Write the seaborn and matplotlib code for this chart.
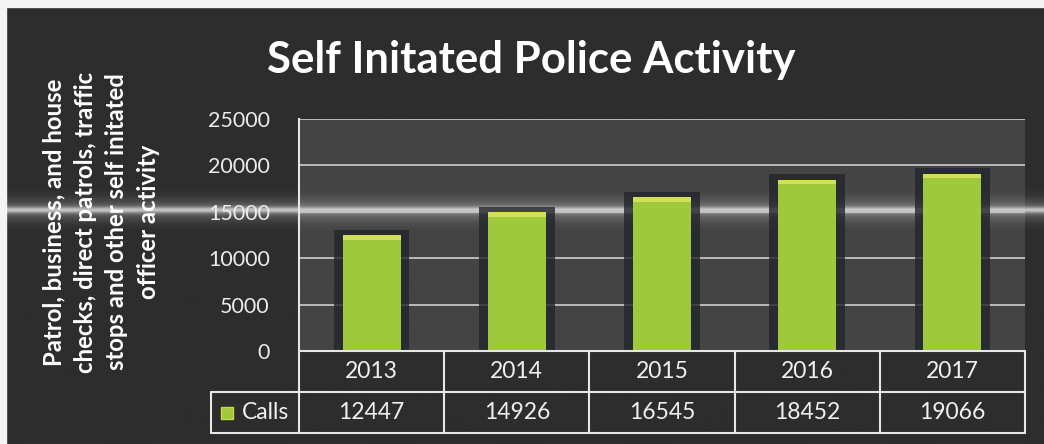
import numpy as np
import pandas as pd
import seaborn as sns
import matplotlib.pyplot as plt
from matplotlib import transforms
from matplotlib.patches import Rectangle

# chart data
years = ['2013', '2014', '2015', '2016', '2017']
calls = [12447, 14926, 16545, 18452, 19066]
series_name = 'Calls'
y_ticks = [0, 5000, 10000, 15000, 20000, 25000]
title = 'Self Initated Police Activity'
y_label = ('Patrol, business, and house\nchecks, direct patrols, traffic\n'
           'stops and other self initated\nofficer activity')

df = pd.DataFrame({'year': years, 'calls': calls})
df['shadow'] = df['calls'] + 600
df['bevel'] = 450

sns.set_style('dark')
plt.rcParams['font.family'] = ['Lato', 'DejaVu Sans']

W, H = 1044, 444
fig = plt.figure(figsize=(W / 100, H / 100), dpi=100)
fig.patch.set_facecolor('#2d2d2d')

# background with the bright streak across the slide
bg = fig.add_axes([0, 0, 1, 1], zorder=0)
d = np.arange(H) - 210
glow = 0.55 * np.exp(-(d / 3.0) ** 2) + 0.28 * np.exp(-(d / 11.0) ** 2)
base = np.array([45, 45, 45]) / 255
peak = np.array([230, 230, 230]) / 255
img = base + glow[:, None] * (peak - base)
img = np.repeat(img[:, None, :], 8, axis=1)
bg.imshow(img, aspect='auto', extent=[0, 1, 0, 1], origin='upper')
bg.set_xlim(0, 1)
bg.set_ylim(0, 1)
bg.axis('off')

# white scan edges
fig.patches.append(Rectangle((0, 1 - 7 / H), 1, 7 / H, transform=fig.transFigure,
                             color='#f4f4f4', zorder=5))
fig.patches.append(Rectangle((0, 0), 6 / W, 1, transform=fig.transFigure,
                             color='#f4f4f4', zorder=5))

# plot area
ax = fig.add_axes([299 / W, 1 - 351 / H, 726 / W, 232 / H], zorder=1)
ax.set_facecolor((1, 1, 1, 0.11))
ax.set_axisbelow(True)

sns.barplot(data=df, x='year', y='shadow', width=0.52, color='#22252b',
            saturation=1, alpha=0.8, edgecolor='none', linewidth=0, ax=ax)
sns.barplot(data=df, x='year', y='calls', width=0.4, color='#9ec93a',
            saturation=1, edgecolor='none', linewidth=0, ax=ax)
ax.bar(range(len(years)), df['bevel'], bottom=df['calls'] - df['bevel'],
       width=0.4, color='#d2df5e', linewidth=0)

ax.set_xlim(-0.5, len(years) - 0.5)
ax.set_ylim(0, 25000)
ax.set_yticks(y_ticks)
ax.yaxis.grid(True, color='#c4c4c4', linewidth=1.3)
ax.xaxis.grid(False)
ax.tick_params(axis='y', length=0, pad=21, labelsize=15.5, labelcolor='#ececec')
ax.tick_params(axis='x', length=0, labelbottom=False)
ax.set_xlabel('')
ax.set_ylabel('')
for side in ['top', 'right', 'bottom']:
    ax.spines[side].set_visible(False)
ax.spines['left'].set_color('#e6e6e6')
ax.spines['left'].set_linewidth(1.5)

# data table under the axis
trans = transforms.blended_transform_factory(ax.transData, ax.transAxes)
row_h = 41 / 232
leg_left = -0.5 - 88 / 145.2
right = len(years) - 0.5
lc, lw = '#e6e6e6', 1.5
line_kw = dict(transform=trans, clip_on=False, color=lc, linewidth=lw)
ax.plot([-0.5, right], [0, 0], **line_kw)
ax.plot([leg_left, right], [-row_h, -row_h], **line_kw)
ax.plot([leg_left, right], [-2 * row_h, -2 * row_h], **line_kw)
ax.plot([leg_left, leg_left], [-row_h, -2 * row_h], **line_kw)
for i in range(len(years) + 1):
    ax.plot([i - 0.5, i - 0.5], [0, -2 * row_h], **line_kw)

txt_kw = dict(transform=trans, ha='center', va='center', fontsize=16.5,
              color='#f0f0f0')
for i, (yr, v) in enumerate(zip(years, calls)):
    ax.text(i, -row_h / 2, yr, **txt_kw)
    ax.text(i, -1.5 * row_h, str(v), **txt_kw)

ax.plot([leg_left + 16 / 145.2], [-1.5 * row_h], marker='s', markersize=9,
        color='#9ec93a', markeredgecolor='#c9d94f', transform=trans, clip_on=False)
ax.text(leg_left + 31 / 145.2, -1.5 * row_h, series_name, transform=trans,
        ha='left', va='center', fontsize=16.5, color='#f0f0f0')

# titles
fig.text(531 / W, 1 - 60 / H, title, ha='center', va='center', fontsize=31.5,
         fontweight='bold', color='white')
fig.text(101 / W, 1 - 222 / H, y_label, ha='center', va='center', rotation=90,
         fontsize=17.2, fontweight='bold', color='white', linespacing=1.45,
         multialignment='center')

fig.savefig('out.png', dpi=100, facecolor=fig.get_facecolor())
